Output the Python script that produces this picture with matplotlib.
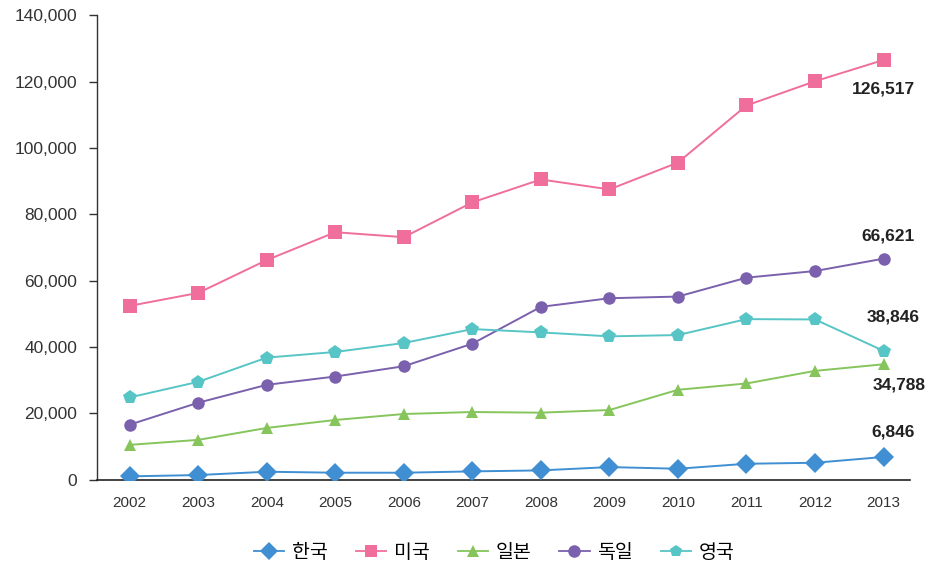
import matplotlib
matplotlib.use("Agg")
import matplotlib.pyplot as plt
from matplotlib.ticker import FuncFormatter

years = [2002, 2003, 2004, 2005, 2006, 2007, 2008, 2009, 2010, 2011, 2012, 2013]
korea = [1000, 1400, 2400, 2100, 2100, 2500, 2800, 3800, 3300, 4800, 5100, 6846]
usa = [52400, 56300, 66200, 74600, 73100, 83600, 90500, 87500, 95600, 112800, 120100, 126517]
japan = [10500, 12000, 15600, 18000, 19800, 20400, 20200, 21000, 27100, 29000, 32800, 34788]
germany = [16600, 23200, 28600, 31100, 34200, 41000, 52100, 54700, 55200, 60900, 62900, 66621]
uk = [24800, 29500, 36800, 38500, 41200, 45400, 44400, 43200, 43600, 48400, 48300, 38846]
names = ["한국", "미국", "일본", "독일", "영국"]
y_ticks = [0, 20000, 40000, 60000, 80000, 100000, 120000, 140000]

series = [korea, usa, japan, germany, uk]
colors = ["#3f8fd2", "#f06e9b", "#86c55c", "#7a60ad", "#57c5c5"]
markers = ["D", "s", "^", "o", "p"]
msizes = [10.5, 9.5, 8.5, 9, 10.5]

fig = plt.figure(figsize=(9.31, 5.65), dpi=100)
ax = fig.add_axes([0.104, 0.151, 0.873, 0.822])

xs = list(range(len(years)))
for vals, c, m, ms, n in zip(series, colors, markers, msizes, names):
    ax.plot(xs, vals, color=c, marker=m, markersize=ms, linewidth=1.4,
            markeredgewidth=0, label=n, zorder=3)

ax.set_xlim(-0.48, 11.38)
ax.set_ylim(0, 140000)
ax.set_yticks(y_ticks)
ax.yaxis.set_major_formatter(FuncFormatter(lambda v, p: f"{int(v):,}"))
ax.set_xticks(xs)
ax.set_xticklabels([str(y) for y in years])
for s in ["top", "right"]:
    ax.spines[s].set_visible(False)
ax.spines["left"].set_color("#333333")
ax.spines["bottom"].set_color("#222222")
ax.spines["left"].set_linewidth(1.0)
ax.spines["bottom"].set_linewidth(1.2)
ax.tick_params(axis="y", length=6, width=1, color="#333333", labelsize=12.5,
               labelcolor="#333333", pad=8)
ax.tick_params(axis="x", length=0, labelsize=11, labelcolor="#333333", pad=12)
for lab in ax.get_yticklabels() + ax.get_xticklabels():
    lab.set_family("Liberation Sans")

# end labels
ann = [(usa, (0, -21)), (germany, (3, 16)), (uk, (7, 24)), (japan, (11, -15)), (korea, (7, 18))]
for vals, off in ann:
    ax.annotate(f"{vals[-1]:,}", xy=(xs[-1], vals[-1]), xytext=off,
                textcoords="offset points", ha="center", va="center",
                fontsize=12.5, fontweight="bold", color="#222222",
                family="Liberation Sans")

leg = fig.legend(loc="center", bbox_to_anchor=(0.531, 0.022), ncol=5, frameon=False,
                 handlelength=1.55, columnspacing=1.45, handletextpad=0.4,
                 prop={"family": ["Noto Sans CJK KR", "DejaVu Sans"], "size": 14})
for h in leg.legend_handles:
    h.set_markersize(9)
    h.set_linewidth(1.3)

fig.savefig("out.png", dpi=100)
